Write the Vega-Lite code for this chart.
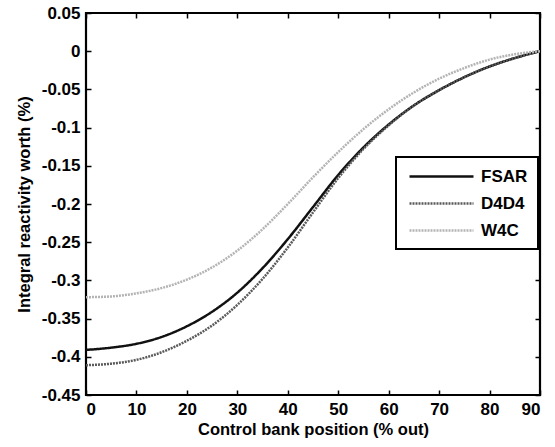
{
  "$schema": "https://vega.github.io/schema/vega-lite/v6.json",
  "width": 454,
  "height": 382,
  "autosize": {"type": "none"},
  "padding": {"left": 86, "top": 13, "right": 15, "bottom": 52},
  "background": "white",
  "config": {
    "view": {"stroke": "black", "strokeWidth": 2.2},
    "font": "Liberation Sans",
    "axis": {
      "grid": false,
      "domain": false,
      "tickColor": "black",
      "tickWidth": 1.5,
      "tickSize": -5,
      "labelPadding": 11,
      "labelFont": "Liberation Sans",
      "labelFontWeight": "bold",
      "labelFontSize": 17,
      "labelColor": "black",
      "titleFont": "Liberation Sans",
      "titleFontWeight": "bold",
      "titleFontSize": 16.5,
      "titleColor": "black"
    }
  },
  "data": {
    "values": [
      {"x": 0, "worth": -0.391, "series": "FSAR"},
      {"x": 5, "worth": -0.388, "series": "FSAR"},
      {"x": 10, "worth": -0.383, "series": "FSAR"},
      {"x": 15, "worth": -0.374, "series": "FSAR"},
      {"x": 20, "worth": -0.360, "series": "FSAR"},
      {"x": 25, "worth": -0.341, "series": "FSAR"},
      {"x": 30, "worth": -0.316, "series": "FSAR"},
      {"x": 35, "worth": -0.284, "series": "FSAR"},
      {"x": 40, "worth": -0.246, "series": "FSAR"},
      {"x": 45, "worth": -0.204, "series": "FSAR"},
      {"x": 50, "worth": -0.162, "series": "FSAR"},
      {"x": 55, "worth": -0.126, "series": "FSAR"},
      {"x": 60, "worth": -0.096, "series": "FSAR"},
      {"x": 65, "worth": -0.071, "series": "FSAR"},
      {"x": 70, "worth": -0.051, "series": "FSAR"},
      {"x": 75, "worth": -0.034, "series": "FSAR"},
      {"x": 80, "worth": -0.020, "series": "FSAR"},
      {"x": 85, "worth": -0.009, "series": "FSAR"},
      {"x": 90, "worth": 0.0, "series": "FSAR"},
      {"x": 0, "worth": -0.411, "series": "D4D4"},
      {"x": 5, "worth": -0.409, "series": "D4D4"},
      {"x": 10, "worth": -0.404, "series": "D4D4"},
      {"x": 15, "worth": -0.394, "series": "D4D4"},
      {"x": 20, "worth": -0.379, "series": "D4D4"},
      {"x": 25, "worth": -0.359, "series": "D4D4"},
      {"x": 30, "worth": -0.332, "series": "D4D4"},
      {"x": 35, "worth": -0.298, "series": "D4D4"},
      {"x": 40, "worth": -0.257, "series": "D4D4"},
      {"x": 45, "worth": -0.211, "series": "D4D4"},
      {"x": 50, "worth": -0.166, "series": "D4D4"},
      {"x": 55, "worth": -0.128, "series": "D4D4"},
      {"x": 60, "worth": -0.097, "series": "D4D4"},
      {"x": 65, "worth": -0.071, "series": "D4D4"},
      {"x": 70, "worth": -0.051, "series": "D4D4"},
      {"x": 75, "worth": -0.034, "series": "D4D4"},
      {"x": 80, "worth": -0.020, "series": "D4D4"},
      {"x": 85, "worth": -0.009, "series": "D4D4"},
      {"x": 90, "worth": 0.0, "series": "D4D4"},
      {"x": 0, "worth": -0.322, "series": "W4C"},
      {"x": 5, "worth": -0.321, "series": "W4C"},
      {"x": 10, "worth": -0.317, "series": "W4C"},
      {"x": 15, "worth": -0.310, "series": "W4C"},
      {"x": 20, "worth": -0.299, "series": "W4C"},
      {"x": 25, "worth": -0.283, "series": "W4C"},
      {"x": 30, "worth": -0.261, "series": "W4C"},
      {"x": 35, "worth": -0.233, "series": "W4C"},
      {"x": 40, "worth": -0.200, "series": "W4C"},
      {"x": 45, "worth": -0.165, "series": "W4C"},
      {"x": 50, "worth": -0.132, "series": "W4C"},
      {"x": 55, "worth": -0.102, "series": "W4C"},
      {"x": 60, "worth": -0.076, "series": "W4C"},
      {"x": 65, "worth": -0.054, "series": "W4C"},
      {"x": 70, "worth": -0.036, "series": "W4C"},
      {"x": 75, "worth": -0.022, "series": "W4C"},
      {"x": 80, "worth": -0.011, "series": "W4C"},
      {"x": 85, "worth": -0.004, "series": "W4C"},
      {"x": 90, "worth": 0.0, "series": "W4C"}
    ]
  },
  "layer": [
    {
      "mark": {"type": "line", "strokeWidth": 2.5, "interpolate": "monotone"},
      "encoding": {
        "x": {
          "field": "x", "type": "quantitative",
          "scale": {"domain": [0, 90], "nice": false},
          "axis": {"values": [0, 10, 20, 30, 40, 50, 60, 70, 80, 90], "title": "Control bank position (% out)", "titlePadding": 4}
        },
        "y": {
          "field": "worth", "type": "quantitative",
          "scale": {"domain": [-0.45, 0.05], "nice": false, "zero": false},
          "axis": {
            "values": [-0.45, -0.4, -0.35, -0.3, -0.25, -0.2, -0.15, -0.1, -0.05, 0, 0.05],
            "labelExpr": "datum.value == 0 ? '0' : '' + round(datum.value * 100) / 100",
            "title": "Integral reactivity worth (%)",
            "titlePadding": 9
          }
        },
        "color": {
          "field": "series", "type": "nominal",
          "scale": {"domain": ["FSAR", "D4D4", "W4C"], "range": ["#111111", "#5a5a5a", "#b4b4b4"]},
          "legend": {
            "orient": "none", "legendX": 310, "legendY": 144, "title": null,
            "strokeColor": "black", "fillColor": "white", "padding": 10,
            "symbolType": "M-4,0H4", "symbolSize": 256, "symbolStrokeWidth": 2.5, "symbolOffset": 26,
            "labelOffset": 30, "rowPadding": 9,
            "labelFont": "Liberation Sans", "labelFontWeight": "bold", "labelFontSize": 17, "labelColor": "black",
            "encode": {"legend": {"update": {"strokeWidth": {"value": 2}}}}
          }
        },
        "strokeDash": {
          "field": "series", "type": "nominal",
          "scale": {"domain": ["FSAR", "D4D4", "W4C"], "range": [[1, 0], [2, 1], [2, 1]]},
          "legend": {
            "orient": "none", "legendX": 310, "legendY": 144, "title": null,
            "strokeColor": "black", "fillColor": "white", "padding": 10,
            "symbolType": "M-4,0H4", "symbolSize": 256, "symbolStrokeWidth": 2.5, "symbolOffset": 26,
            "labelOffset": 30, "rowPadding": 9,
            "labelFont": "Liberation Sans", "labelFontWeight": "bold", "labelFontSize": 17, "labelColor": "black",
            "encode": {"legend": {"update": {"strokeWidth": {"value": 2}}}}
          }
        }
      }
    },
    {
      "mark": {"type": "point", "opacity": 0},
      "encoding": {
        "x": {"field": "x", "type": "quantitative", "axis": {"orient": "top", "values": [0, 10, 20, 30, 40, 50, 60, 70, 80, 90], "labels": false, "title": null}},
        "y": {"field": "worth", "type": "quantitative", "axis": {"orient": "right", "values": [-0.45, -0.4, -0.35, -0.3, -0.25, -0.2, -0.15, -0.1, -0.05, 0, 0.05], "labels": false, "title": null}}
      }
    }
  ],
  "resolve": {"axis": {"x": "independent", "y": "independent"}}
}
